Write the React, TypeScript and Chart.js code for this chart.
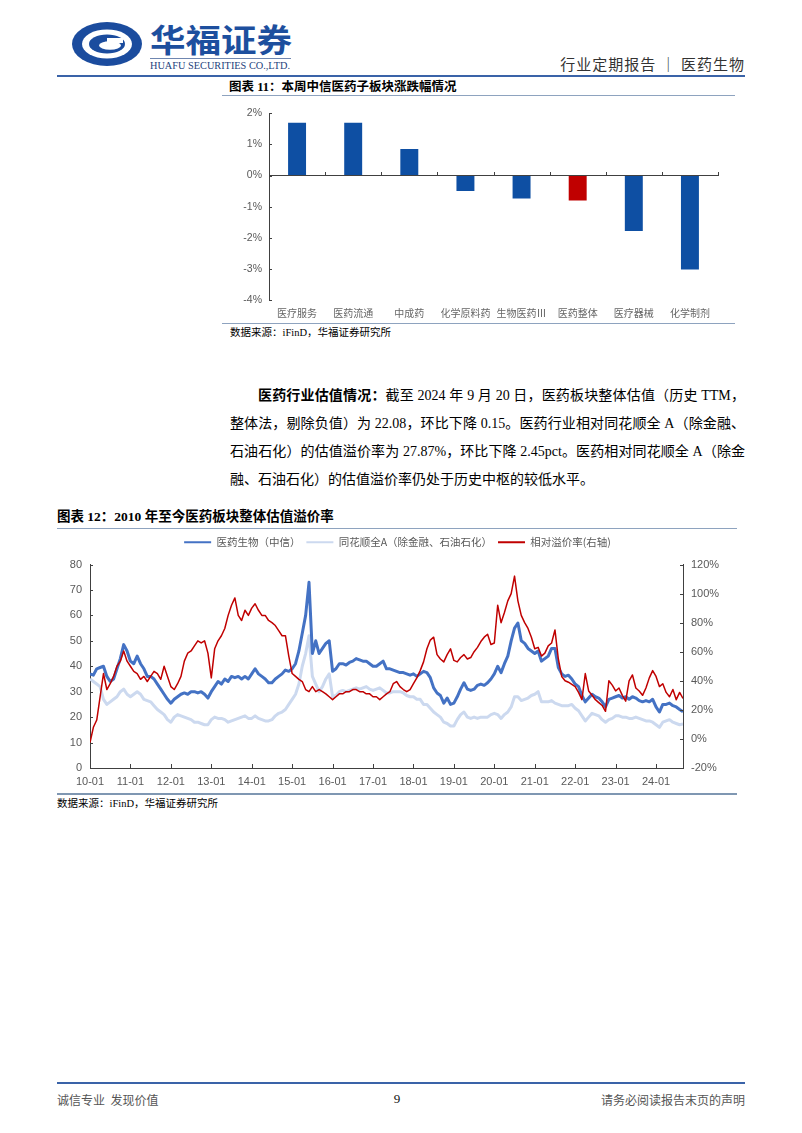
import React, { useEffect, useRef } from 'react';
import { Chart, registerables } from 'chart.js';

Chart.register(...registerables);

// ---------- Chart 11 data ----------
const sectorNames = ['医疗服务', '医药流通', '中成药', '化学原料药', '生物医药Ⅲ', '医药整体', '医疗器械', '化学制剂'];
const weeklyChange = [1.7, 1.7, 0.85, -0.5, -0.74, -0.8, -1.78, -3.02];
const highlightSector = '医药整体';

// ---------- Chart 12 data (monthly, 2010-01 .. 2024-09) ----------
const xTickLabels = ['10-01', '11-01', '12-01', '13-01', '14-01', '15-01', '16-01', '17-01', '18-01', '19-01', '20-01', '21-01', '22-01', '23-01', '24-01'];
const seriesNames = ['医药生物（中信）', '同花顺全A（除金融、石油石化）', '相对溢价率(右轴)'];

const medPE = [
  37, 36.5, 39, 39.5, 40, 36, 34, 35, 39, 43, 48.5, 46,
  42, 41, 44, 41, 39, 36, 36, 35, 33, 31, 29, 27,
  25.5, 27, 28, 29, 29.5, 29, 30, 30, 29.5, 30, 29, 27.5,
  30, 32, 34, 33, 35, 34, 36, 35.5, 36, 35, 36, 35,
  37, 39, 37, 36, 35, 33.5, 33.5, 35, 36, 37, 38.5, 38,
  39, 41, 46, 53, 60, 73, 45, 50, 45, 47, 49, 50,
  38, 39, 41, 41, 40.5, 41.5, 42, 43, 42.5, 42, 42, 41,
  40, 40, 41, 42, 39, 39, 38.5, 38, 37.5, 37.5, 37, 36.5,
  37, 36, 37, 38, 37.5, 35.5, 31.5, 29.5, 28.5, 25.5, 27.5, 25,
  25.5, 28, 31, 33.5, 31, 30.5, 31, 32.5, 33, 32.5, 33.5, 35,
  37, 40, 37.5, 41, 44, 50, 55, 57, 50, 49, 47, 46,
  45, 46, 42, 43, 44, 47, 47, 39.5, 37, 36, 36.5, 35,
  33, 32, 28.5, 26, 27.5, 29, 28, 27.5, 26, 24, 27, 27.5,
  28, 28.5, 27.5, 28, 27, 28, 27.5, 26.5, 26, 26.5, 26, 27,
  24, 22, 25, 25, 25.5, 24.5, 24, 23, 22.08,
];

const allAPE = [
  35, 34, 33, 32, 27, 25, 26, 27, 28, 30, 31, 29,
  28, 29, 30, 29, 27, 26.5, 26, 24.5, 23, 22, 21, 19,
  18, 20, 21, 20.5, 20, 19.5, 19, 18, 18, 17.5, 17, 17,
  19, 20, 19.5, 19.5, 19, 18, 18.5, 19, 19.5, 20, 20.5, 19.5,
  19.5, 20.5, 19.5, 19, 18.5, 18.5, 19, 20.5, 21.5, 22, 23, 25,
  27, 29, 33, 40, 45, 52, 36, 33, 30, 32, 35, 37,
  28, 28.5, 30, 30.5, 30, 30.5, 31, 31.5, 31, 31.5, 32, 31,
  30.5, 31, 31.5, 30.5, 29.5, 29.5, 30, 30, 30, 29.5, 28.5, 28,
  28, 27, 27, 25, 25, 23.5, 22, 21, 20, 18, 17.5, 16.5,
  16.5, 19, 21, 22, 20, 19.5, 20, 19.5, 20, 20, 20, 21,
  21.5, 21, 19.5, 21, 22, 24, 28, 28, 26.5, 27, 27.5, 28.5,
  29, 30, 26, 26, 26, 26.5, 25.5, 25, 24.5, 24.5, 24.5, 25,
  23.5, 22.5, 20.5, 18.5, 20, 21.5, 21, 20.5, 19, 18, 19, 19.5,
  20.5, 20.5, 20, 20, 19.5, 19.5, 20, 19.5, 19, 18.5, 18.5, 18,
  17, 16, 18, 18.5, 19, 18, 17.5, 17, 17.3,
];

const premiumPct = [
  -2.5, 8, 13, 29, 45, 34, 38, 43, 50, 53.5, 60.5, 53.5,
  50, 46.5, 45, 41, 43, 39.5, 43, 46.5, 45, 41, 50, 43,
  36, 34, 38, 43, 53.5, 59, 60.5, 64, 67.5, 66, 67.5, 59,
  42, 62, 67.5, 71, 76, 85, 92, 97, 85, 81.5, 88.5, 85,
  90, 93, 88.5, 85, 85, 81.5, 80, 78, 74.5, 71, 71, 57,
  45, 43, 41, 39.5, 34, 32.5, 36, 32.5, 34, 32.5, 31, 29,
  27, 29, 31, 31, 32.5, 32.5, 34, 34, 32.5, 32.5, 31, 31,
  29, 29, 27, 29, 31, 32.5, 38, 39.5, 36, 34, 32.5, 34,
  38, 42, 47, 53, 62, 68, 70, 58, 55, 53, 58, 62,
  54, 53, 56, 58, 55, 56, 60, 63, 67, 70, 72, 65,
  66, 92, 80, 87, 95, 100, 112, 95, 85, 80, 76, 70,
  62, 63, 57, 59, 64, 66, 75, 55, 43, 40, 39, 37.5,
  36, 32, 27, 45, 33, 30, 27, 25, 23, 19, 40, 37,
  33, 35, 30, 26, 40, 44, 35, 33, 30, 35, 42, 47,
  43, 36, 38, 32, 29, 34, 27, 32, 27.87,
];

const SANS = '"Liberation Sans", Arial, "Noto Sans CJK SC", sans-serif';
const CJK = '"Noto Sans CJK SC", "Liberation Sans", sans-serif';
const SERIF = '"Liberation Serif", "Noto Sans CJK SC", serif';
const AXIS = '#404040';
const TICK = '#595959';

const innerTicksPlugin = {
  id: 'innerTicks',
  afterDraw(chart: any, _args: any, opts: any) {
    const items = opts && opts.items;
    if (!items) return;
    const { ctx, chartArea: a } = chart;
    ctx.save();
    ctx.strokeStyle = opts.color || AXIS;
    ctx.lineWidth = 1;
    ctx.beginPath();
    for (const it of items) {
      const s = chart.scales[it.scale];
      if (!s) continue;
      if (it.type === 'left' || it.type === 'right') {
        s.ticks.forEach((_t: any, i: number) => {
          const y = Math.round(s.getPixelForTick(i)) + 0.5;
          if (it.type === 'left') {
            ctx.moveTo(a.left, y);
            ctx.lineTo(a.left + it.len, y);
          } else {
            ctx.moveTo(a.right, y);
            ctx.lineTo(a.right - it.len, y);
          }
        });
      } else if (it.type === 'bottom') {
        s.ticks.forEach((_t: any, i: number) => {
          const x = Math.round(s.getPixelForTick(i)) + 0.5;
          ctx.moveTo(x, a.bottom);
          ctx.lineTo(x, a.bottom - it.len);
        });
      } else if (it.type === 'boundaries') {
        const ys = chart.scales[it.valueScale];
        const y0 = Math.round(ys.getPixelForValue(it.value));
        const n = s.ticks.length;
        for (let i = 1; i <= n; i++) {
          const x = Math.round(s.left + (s.width * i) / n) + 0.5;
          ctx.moveTo(x, y0);
          ctx.lineTo(x, y0 - it.len);
        }
      }
    }
    ctx.stroke();
    ctx.restore();
  },
};

// adds extra space between the legend and the plot area
const legendGapPlugin = {
  id: 'legendGap',
  beforeUpdate(chart: any, _args: any, opts: any) {
    const lg = chart.legend;
    if (lg && !lg._gapPatched) {
      const orig = lg.fit.bind(lg);
      lg.fit = function () {
        orig();
        this.height += (opts && opts.gap) || 0;
      };
      lg._gapPatched = true;
    }
  },
};

function SectorChart() {
  const ref = useRef<HTMLCanvasElement>(null);
  useEffect(() => {
    if (!ref.current) return;
    const chart = new Chart(ref.current, {
      type: 'bar',
      data: {
        labels: sectorNames,
        datasets: [
          {
            data: weeklyChange,
            backgroundColor: sectorNames.map((n) => (n === highlightSector ? '#C00000' : '#0E4FA3')),
            categoryPercentage: 1,
            barPercentage: 0.32,
          },
        ],
      },
      options: {
        responsive: false,
        animation: false,
        layout: { padding: { top: 9, right: 7, left: 0, bottom: 0 } },
        plugins: {
          legend: { display: false },
          tooltip: { enabled: false },
          innerTicks: {
            color: AXIS,
            items: [
              { scale: 'y', type: 'left', len: 3 },
              { scale: 'x', type: 'boundaries', valueScale: 'y', value: 0, len: 4 },
            ],
          },
        } as any,
        scales: {
          x: {
            grid: { display: false, drawTicks: false },
            border: { display: false },
            ticks: { color: '#666', font: { size: 10, family: CJK }, padding: 7, autoSkip: false, maxRotation: 0 },
            afterFit: (s: any) => { s.height = 22; },
          },
          y: {
            min: -4,
            max: 2,
            ticks: { stepSize: 1, callback: (v: any) => v + '%', color: TICK, font: { size: 10.5, family: SANS }, padding: 7 },
            grid: {
              drawTicks: false,
              color: (c: any) => (c.tick && c.tick.value === 0 ? AXIS : 'rgba(0,0,0,0)'),
            },
            border: { display: true, color: AXIS },
            afterFit: (s: any) => { s.width = 54; },
          },
        },
      },
      plugins: [innerTicksPlugin],
    });
    return () => chart.destroy();
  }, []);
  return <canvas ref={ref} width={510} height={222} />;
}

function ValuationChart() {
  const ref = useRef<HTMLCanvasElement>(null);
  useEffect(() => {
    if (!ref.current) return;
    const toXY = (arr: number[]) => arr.map((v, i) => ({ x: i, y: v }));
    const chart = new Chart(ref.current, {
      type: 'line',
      data: {
        datasets: [
          { label: seriesNames[0], data: toXY(medPE), borderColor: '#4472C4', borderWidth: 3, yAxisID: 'y', order: 1 },
          { label: seriesNames[1], data: toXY(allAPE), borderColor: '#CCD9EF', borderWidth: 3, yAxisID: 'y', order: 2 },
          { label: seriesNames[2], data: toXY(premiumPct), borderColor: '#C00000', borderWidth: 1.5, yAxisID: 'y2', order: 0 },
        ],
      },
      options: {
        responsive: false,
        animation: false,
        elements: { point: { radius: 0 }, line: { tension: 0, borderJoinStyle: 'round' } },
        layout: { padding: 0 },
        plugins: {
          tooltip: { enabled: false },
          legendGap: { gap: 7 },
          legend: {
            position: 'top',
            align: 'center',
            labels: {
              usePointStyle: true,
              pointStyle: 'line',
              pointStyleWidth: 27,
              boxHeight: 10,
              padding: 6,
              color: TICK,
              font: { size: 10.5, family: CJK },
              sort: (a: any, b: any) => a.datasetIndex - b.datasetIndex,
              generateLabels: (chart: any) =>
                (Chart.defaults.plugins.legend.labels.generateLabels as any)(chart).map((l: any) => ({ ...l, lineWidth: 2 })),
            },
          },
          innerTicks: {
            color: AXIS,
            items: [
              { scale: 'y', type: 'left', len: 3 },
              { scale: 'y2', type: 'right', len: 3 },
              { scale: 'x', type: 'bottom', len: 4 },
            ],
          },
        } as any,
        scales: {
          x: {
            type: 'linear',
            min: 0,
            max: medPE.length - 1,
            afterBuildTicks: (s: any) => { s.ticks = s.ticks.filter((t: any) => t.value % 12 === 0); },
            ticks: {
              stepSize: 12,
              includeBounds: false,
              autoSkip: false,
              maxRotation: 0,
              callback: (v: any) => xTickLabels[v / 12],
              color: TICK,
              font: { size: 11, family: SANS },
              padding: 7,
            },
            grid: { display: false, drawTicks: false },
            border: { display: true, color: AXIS },
            afterFit: (s: any) => { s.height = 22; },
          },
          y: {
            position: 'left',
            min: 0,
            max: 80,
            ticks: { stepSize: 10, color: TICK, font: { size: 11, family: SANS }, padding: 8 },
            grid: { display: false, drawTicks: false },
            border: { display: true, color: AXIS },
            afterFit: (s: any) => { s.width = 40; },
          },
          y2: {
            position: 'right',
            min: -20,
            max: 120,
            ticks: { stepSize: 20, callback: (v: any) => v + '%', color: TICK, font: { size: 11, family: SANS }, padding: 8 },
            grid: { display: false, drawTicks: false },
            border: { display: true, color: AXIS },
            afterFit: (s: any) => { s.width = 62; },
          },
        },
      },
      plugins: [innerTicksPlugin, legendGapPlugin],
    });
    return () => chart.destroy();
  }, []);
  return <canvas ref={ref} width={695} height={259} />;
}

const abs = (left: number, top: number, extra: React.CSSProperties = {}): React.CSSProperties => ({
  position: 'absolute',
  left,
  top,
  ...extra,
});

const hline = (left: number, top: number, width: number, color: string, h = 1): React.CSSProperties => ({
  position: 'absolute',
  left,
  top,
  width,
  height: h,
  background: color,
});

export default function App() {
  const lineStyle: React.CSSProperties = { textAlign: 'justify', textAlignLast: 'justify', whiteSpace: 'nowrap' as any };
  return (
    <div style={{ position: 'absolute', left: 0, top: 0, width: 802, height: 1133, background: '#fff', overflow: 'hidden', fontFamily: SERIF, color: '#000' }}>
      {/* Header logo */}
      <svg style={abs(70, 18)} width={230} height={56} viewBox="0 0 230 56">
        <ellipse cx={37} cy={26} rx={35} ry={22} fill="#1B4C9E" />
        <ellipse cx={37} cy={26} rx={25} ry={14.5} fill="#fff" />
        <ellipse cx={37} cy={26} rx={18} ry={9.5} fill="#1B4C9E" />
        <ellipse cx={40} cy={27.5} rx={11} ry={4.2} fill="#fff" />
        <rect x={37} y={20} width={16} height={5} fill="#fff" />
        <text x={80} y={34} textLength={142} lengthAdjust="spacingAndGlyphs" fill="#1D4F9E" fontSize={32} fontWeight={700} fontFamily={CJK}>华福证券</text>
        <rect x={80} y={40} width={141} height={1} fill="#6F86B0" />
        <text x={80} y={51} textLength={140} lengthAdjust="spacingAndGlyphs" fill="#1E3F7C" fontSize={10.5} fontFamily={SERIF}>HUAFU SECURITIES CO.,LTD.</text>
      </svg>
      <div style={abs(545, 55, { width: 200, textAlign: 'right', fontSize: 15, lineHeight: '18px', fontFamily: CJK, color: '#333', letterSpacing: 1 })}>
        行业定期报告 ｜ 医药生物
      </div>
      <div style={hline(57, 75, 688, '#3A63A8', 2)} />

      {/* Figure 11 */}
      <div style={abs(229, 79, { fontSize: 12.5, lineHeight: '16px', fontWeight: 700, fontFamily: SERIF })}>
        图表 11：本周中信医药子板块涨跌幅情况
      </div>
      <div style={hline(222, 95, 513, '#8EA3BF', 1)} />
      <div style={abs(215, 100)}>
        <SectorChart />
      </div>
      <div style={hline(222, 323, 513, '#8EA3BF', 1)} />
      <div style={abs(230, 326, { fontSize: 10.5, lineHeight: '14px', fontFamily: SERIF })}>数据来源：iFinD，华福证券研究所</div>

      {/* Paragraph */}
      <div style={abs(230, 382, { width: 515, fontSize: 14, lineHeight: '28px', fontFamily: SERIF })}>
        <div style={{ ...lineStyle, textIndent: 28 }}>
          <b>医药行业估值情况：</b>截至 2024 年 9 月 20 日，医药板块整体估值（历史 TTM，
        </div>
        <div style={lineStyle}>整体法，剔除负值）为 22.08，环比下降 0.15。医药行业相对同花顺全 A（除金融、</div>
        <div style={lineStyle}>石油石化）的估值溢价率为 27.87%，环比下降 2.45pct。医药相对同花顺全 A（除金</div>
        <div style={{ whiteSpace: 'nowrap' }}>融、石油石化）的估值溢价率仍处于历史中枢的较低水平。</div>
      </div>

      {/* Figure 12 */}
      <div style={abs(57, 508, { fontSize: 13.5, lineHeight: '17px', fontWeight: 700, fontFamily: SERIF })}>
        图表 12：2010 年至今医药板块整体估值溢价率
      </div>
      <div style={hline(57, 528, 680, '#8EA3BF', 1)} />
      <div style={abs(50, 531)}>
        <ValuationChart />
      </div>
      <div style={hline(57, 793, 680, '#7F97B2', 2)} />
      <div style={abs(57, 797, { fontSize: 10.5, lineHeight: '14px', fontFamily: SERIF })}>数据来源：iFinD，华福证券研究所</div>

      {/* Footer */}
      <div style={hline(57, 1082, 688, '#3A63A8', 2)} />
      <div style={abs(57, 1092, { fontSize: 12, lineHeight: '16px', fontFamily: CJK, color: '#555' })}>诚信专业&nbsp;&nbsp;发现价值</div>
      <div style={abs(387, 1091, { width: 20, textAlign: 'center', fontSize: 13, lineHeight: '16px', fontFamily: SERIF, color: '#111' })}>9</div>
      <div style={abs(545, 1092, { width: 200, textAlign: 'right', fontSize: 12, lineHeight: '16px', fontFamily: CJK, color: '#555' })}>请务必阅读报告末页的声明</div>
    </div>
  );
}
